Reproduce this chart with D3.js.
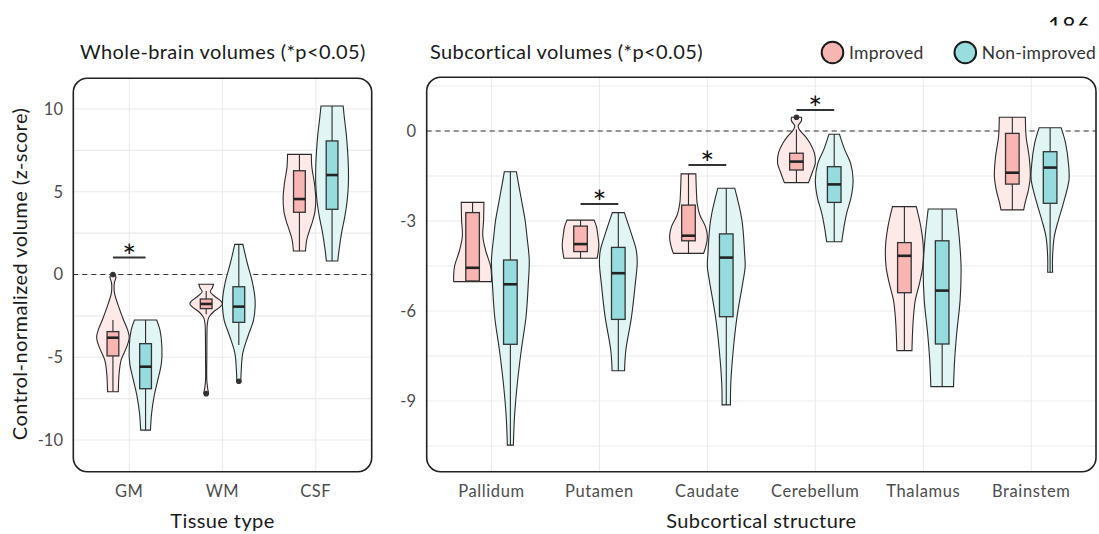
<!DOCTYPE html>
<html>
<head>
<meta charset="utf-8">
<script src="https://cdn.jsdelivr.net/npm/d3@7"></script>
<style>
  body { margin: 0; background: #fff; }
  svg { display: block; }
  text { font-family: Lato, "Open Sans", "DejaVu Sans", sans-serif; }
</style>
</head>
<body>
<svg id="chart" width="1099" height="534"></svg>
<script>
// ---------------- data ----------------
const tissueTypes = ["GM", "WM", "CSF"];
const structures = ["Pallidum", "Putamen", "Caudate", "Cerebellum", "Thalamus", "Brainstem"];
const groupNames = ["Improved", "Non-improved"];

// box statistics: [lower whisker, q1, median, q3, upper whisker]
const tissueBoxImproved = [
  [-7.08, -4.92, -3.82, -3.45, -2.75],
  [-2.40, -2.06, -1.78, -1.48, -1.00],
  [1.42, 3.76, 4.56, 6.27, 7.26]
];
const tissueBoxNonImproved = [
  [-9.40, -6.90, -5.57, -4.18, -2.75],
  [-4.26, -2.89, -1.94, -0.74, 1.82],
  [0.82, 3.94, 6.01, 8.07, 10.18]
];
const tissueOutliersImproved = [[0.0], [-7.2], []];
const tissueOutliersNonImproved = [[], [-6.45], []];

const structBoxImproved = [
  [-5.02, -5.00, -4.56, -2.72, -2.38],
  [-4.24, -4.02, -3.77, -3.17, -2.97],
  [-4.08, -3.66, -3.49, -2.47, -1.43],
  [-1.72, -1.30, -1.02, -0.74, 0.05],
  [-7.32, -5.39, -4.16, -3.72, -2.52],
  [-2.63, -1.77, -1.39, -0.08, 0.46]
];
const structBoxNonImproved = [
  [-10.47, -7.11, -5.11, -4.30, -1.36],
  [-7.99, -6.28, -4.74, -3.88, -2.72],
  [-9.13, -6.19, -4.22, -3.43, -1.91],
  [-3.69, -2.38, -1.78, -1.19, -0.11],
  [-8.52, -7.10, -5.32, -3.66, -2.60],
  [-4.71, -2.41, -1.22, -0.69, 0.11]
];
const structOutliersImproved = [[], [], [], [0.46], [], []];
const structOutliersNonImproved = [[], [], [], [], [], []];

// violin outlines: [value, relative half-width]
const tissueViolinImproved = [
  [[0.0, 0.14], [-0.2, 0.18], [-0.45, 0.1], [-0.7, 0.07], [-1.14, 0.1], [-1.94, 0.35], [-2.75, 0.65],
   [-3.35, 0.9], [-3.8, 1.0], [-4.36, 0.85], [-5.17, 0.5], [-5.97, 0.38], [-7.08, 0.33]],
  [[-0.59, 0.45], [-0.8, 0.38], [-1.04, 0.25], [-1.3, 0.5], [-1.6, 0.9], [-1.78, 1.0], [-2.0, 0.8],
   [-2.25, 0.45], [-2.59, 0.16], [-3.0, 0.07], [-3.5, 0.05], [-5.0, 0.04], [-6.4, 0.04], [-6.94, 0.1],
   [-7.18, 0.14], [-7.3, 0.05]],
  [[7.26, 0.73], [6.5, 0.76], [5.5, 0.92], [4.6, 1.0], [3.8, 0.95], [3.2, 0.8], [2.7, 0.63], [2.1, 0.45], [1.42, 0.37]]
];
const tissueViolinNonImproved = [
  [[-2.75, 0.68], [-3.35, 0.88], [-4.36, 1.0], [-5.37, 0.97], [-6.37, 0.75], [-7.38, 0.52], [-8.39, 0.37], [-9.4, 0.3]],
  [[1.82, 0.25], [0.68, 0.52], [-0.33, 0.8], [-1.34, 0.98], [-1.94, 1.0], [-2.75, 0.9], [-3.76, 0.55],
   [-4.76, 0.24], [-5.77, 0.15], [-6.48, 0.12]],
  [[10.18, 0.68], [9.5, 0.75], [8.5, 0.87], [7.5, 0.95], [6.5, 1.0], [5.5, 1.0], [4.5, 0.93], [3.5, 0.78],
   [2.5, 0.58], [1.5, 0.43], [0.82, 0.35]]
];
const structViolinImproved = [
  [[-2.38, 0.6], [-3.0, 0.58], [-3.5, 0.54], [-4.0, 0.7], [-4.5, 0.95], [-4.8, 1.0], [-5.02, 1.0]],
  [[-2.97, 0.72], [-3.2, 0.85], [-3.5, 0.92], [-3.8, 0.97], [-4.1, 0.92], [-4.24, 0.88]],
  [[-1.43, 0.39], [-2.0, 0.42], [-2.41, 0.46], [-2.8, 0.6], [-3.19, 0.9], [-3.52, 1.0], [-3.85, 0.92], [-4.08, 0.8]],
  [[0.46, 0.26], [0.35, 0.27], [0.17, 0.09], [0.05, 0.15], [-0.19, 0.48], [-0.41, 0.72], [-0.73, 0.95],
   [-1.07, 1.0], [-1.36, 0.85], [-1.72, 0.64]],
  [[-2.52, 0.63], [-3.19, 0.87], [-3.86, 1.0], [-4.52, 0.97], [-5.08, 0.8], [-5.63, 0.58], [-6.19, 0.48],
   [-6.74, 0.43], [-7.32, 0.4]],
  [[0.46, 0.69], [-0.19, 0.73], [-0.86, 0.89], [-1.52, 0.95], [-1.97, 0.85], [-2.41, 0.67], [-2.63, 0.6]]
];
const structViolinNonImproved = [
  [[-1.36, 0.32], [-1.86, 0.46], [-2.41, 0.62], [-2.97, 0.78], [-3.52, 0.88], [-4.3, 1.0], [-5.08, 0.95],
   [-6.19, 0.83], [-7.3, 0.58], [-8.41, 0.37], [-9.52, 0.22], [-10.47, 0.16]],
  [[-2.72, 0.32], [-3.52, 0.74], [-3.97, 0.95], [-4.4, 1.0], [-5.08, 0.9], [-6.19, 0.7], [-7.3, 0.4], [-7.99, 0.33]],
  [[-1.91, 0.45], [-2.97, 0.83], [-4.08, 0.97], [-4.52, 1.0], [-5.08, 0.87], [-6.19, 0.57], [-7.3, 0.37],
   [-8.41, 0.24], [-9.13, 0.22]],
  [[-0.11, 0.28], [-0.63, 0.56], [-1.08, 0.87], [-1.63, 1.0], [-2.19, 0.9], [-2.74, 0.66], [-3.19, 0.52], [-3.69, 0.4]],
  [[-2.6, 0.74], [-3.52, 0.9], [-4.52, 1.0], [-5.63, 0.95], [-6.74, 0.77], [-7.63, 0.66], [-8.52, 0.6]],
  [[0.11, 0.58], [-0.41, 0.82], [-1.08, 0.97], [-1.63, 1.0], [-2.41, 0.7], [-2.97, 0.44], [-3.52, 0.22],
   [-4.19, 0.13], [-4.71, 0.13]]
];

// significance brackets (category, bar level)
const tissueSigCats = ["GM"];
const tissueSigLevels = [1.02];
const structSigCats = ["Putamen", "Caudate", "Cerebellum"];
const structSigLevels = [-2.43, -1.13, 0.7];

// axis ticks
const tissueTicks = [-10, -5, 0, 5, 10];
const tissueMinor = [-7.5, -2.5, 2.5, 7.5];
const structTicks = [-9, -6, -3, 0];
const structMinor = [-10.5, -7.5, -4.5, -1.5, 1.5];

// ---------------- styling ----------------
const violinFill = ["#fde9e8", "#e1f5f5"];
const boxFill = ["#f8b5b1", "#96dcde"];
const legendFill = ["#f8b6b3", "#98dedf"];
const ink = "#2b2b2b";

const svg = d3.select("#chart");

// ---------------- panel drawer ----------------
function drawPanel(cfg) {
  const x = d3.scalePoint().domain(cfg.cats).range([cfg.left, cfg.right]).padding(0.6);
  const y = d3.scaleLinear().domain(cfg.yDomain).range([cfg.bottom, cfg.top]);
  const step = x.step();
  const dodge = 0.175 * step;
  const halfViolin = 0.175 * step;
  const halfBox = 0.063 * step;

  const g = svg.append("g");

  // grid
  const grid = g.append("g").attr("stroke", "#ebebeb").attr("stroke-width", 1.1);
  grid.selectAll("line.h").data(cfg.ticks.concat(cfg.minor)).join("line")
    .attr("x1", cfg.left).attr("x2", cfg.right)
    .attr("y1", d => y(d)).attr("y2", d => y(d));
  grid.selectAll("line.v").data(cfg.cats).join("line")
    .attr("x1", d => x(d)).attr("x2", d => x(d))
    .attr("y1", cfg.top).attr("y2", cfg.bottom);

  // zero reference
  g.append("line")
    .attr("x1", cfg.left).attr("x2", cfg.right)
    .attr("y1", y(0)).attr("y2", y(0))
    .attr("stroke", "#333").attr("stroke-width", 1.2).attr("stroke-dasharray", "5,4");

  const area = d3.area()
    .curve(d3.curveCatmullRom.alpha(0.5));

  const sets = [
    { box: cfg.boxI, viol: cfg.violI, out: cfg.outI, k: 0, off: -dodge },
    { box: cfg.boxN, viol: cfg.violN, out: cfg.outN, k: 1, off: dodge }
  ];

  sets.forEach(s => {
    cfg.cats.forEach((c, i) => {
      const cx = x(c) + s.off;
      const prof = s.viol[i];
      area.y(d => y(d[0]))
        .x0(d => cx - d[1] * halfViolin)
        .x1(d => cx + d[1] * halfViolin);
      g.append("path")
        .attr("d", area(prof))
        .attr("fill", violinFill[s.k])
        .attr("stroke", ink).attr("stroke-width", 1.1);

      const b = s.box[i];
      // whisker
      g.append("line")
        .attr("x1", cx).attr("x2", cx)
        .attr("y1", y(b[0])).attr("y2", y(b[4]))
        .attr("stroke", ink).attr("stroke-width", 1.1);
      // box
      g.append("rect")
        .attr("x", cx - halfBox).attr("width", 2 * halfBox)
        .attr("y", y(b[3])).attr("height", y(b[1]) - y(b[3]))
        .attr("fill", boxFill[s.k])
        .attr("stroke", "#333").attr("stroke-width", 1.3);
      // median
      g.append("line")
        .attr("x1", cx - halfBox).attr("x2", cx + halfBox)
        .attr("y1", y(b[2])).attr("y2", y(b[2]))
        .attr("stroke", "#222").attr("stroke-width", 2.6);
      // outliers
      g.selectAll(null).data(s.out[i]).join("circle")
        .attr("cx", cx).attr("cy", d => y(d)).attr("r", 2.8)
        .attr("fill", "#333");
    });
  });

  // significance bars
  cfg.sigCats.forEach((c, i) => {
    const yy = y(cfg.sigLevels[i]);
    g.append("line")
      .attr("x1", x(c) - dodge).attr("x2", x(c) + dodge)
      .attr("y1", yy).attr("y2", yy)
      .attr("stroke", "#333").attr("stroke-width", 2);
    g.append("text")
      .attr("x", x(c)).attr("y", yy + 10)
      .attr("text-anchor", "middle")
      .attr("font-size", 33).attr("fill", "#111")
      .text("*");
  });

  // frame
  g.append("rect")
    .attr("x", cfg.left).attr("y", cfg.top)
    .attr("width", cfg.right - cfg.left).attr("height", cfg.bottom - cfg.top)
    .attr("rx", 14).attr("ry", 14)
    .attr("fill", "none").attr("stroke", "#222").attr("stroke-width", 1.6);

  // y tick labels
  g.selectAll("text.yt").data(cfg.ticks).join("text")
    .attr("x", cfg.yLabelX).attr("y", d => y(d))
    .attr("dy", "0.35em").attr("text-anchor", "end")
    .attr("font-size", 16.5).attr("fill", "#4d4d4d")
    .text(d => d);

  // x tick labels
  g.selectAll("text.xt").data(cfg.cats).join("text")
    .attr("x", d => x(d)).attr("y", 497)
    .attr("text-anchor", "middle")
    .attr("font-size", 16.5).attr("letter-spacing", 0.6).attr("fill", "#4d4d4d")
    .text(d => d);

  // x axis title
  g.append("text")
    .attr("x", (cfg.left + cfg.right) / 2).attr("y", 528)
    .attr("text-anchor", "middle")
    .attr("font-size", 20).attr("letter-spacing", 0.4).attr("fill", "#1a1a1a")
    .text(cfg.xTitle);

  // panel title
  g.append("text")
    .attr("x", cfg.titleX).attr("y", 59)
    .attr("font-size", 20).attr("letter-spacing", 0.4).attr("fill", "#1a1a1a")
    .text(cfg.title);
}

drawPanel({
  cats: tissueTypes, left: 73.3, right: 371.7, top: 78.3, bottom: 471.7,
  yDomain: [-11.915, 11.855],
  ticks: tissueTicks, minor: tissueMinor,
  boxI: tissueBoxImproved, boxN: tissueBoxNonImproved,
  violI: tissueViolinImproved, violN: tissueViolinNonImproved,
  outI: tissueOutliersImproved, outN: tissueOutliersNonImproved,
  sigCats: tissueSigCats, sigLevels: tissueSigLevels,
  yLabelX: 63, xTitle: "Tissue type",
  title: "Whole-brain volumes (*p<0.05)", titleX: 80
});

drawPanel({
  cats: structures, left: 426.7, right: 1096, top: 77.3, bottom: 471.7,
  yDomain: [-11.357, 1.79],
  ticks: structTicks, minor: structMinor,
  boxI: structBoxImproved, boxN: structBoxNonImproved,
  violI: structViolinImproved, violN: structViolinNonImproved,
  outI: structOutliersImproved, outN: structOutliersNonImproved,
  sigCats: structSigCats, sigLevels: structSigLevels,
  yLabelX: 416, xTitle: "Subcortical structure",
  title: "Subcortical volumes (*p<0.05)", titleX: 430
});

// shared y axis title
svg.append("text")
  .attr("transform", "translate(27,274) rotate(-90)")
  .attr("text-anchor", "middle")
  .attr("font-size", 20).attr("letter-spacing", 0.45).attr("fill", "#1a1a1a")
  .text("Control-normalized volume (z-score)");

// legend
const legendX = [832.5, 965.3];
const legend = svg.append("g");
groupNames.forEach((name, i) => {
  legend.append("circle")
    .attr("cx", legendX[i]).attr("cy", 52.5).attr("r", 10.8)
    .attr("fill", legendFill[i]).attr("stroke", "#1a1a1a").attr("stroke-width", 2);
  legend.append("text")
    .attr("x", legendX[i] + 16.5).attr("y", 58.5)
    .attr("font-size", 17.5).attr("letter-spacing", 0.25).attr("fill", "#333")
    .text(name);
});

// page number, partly cut off at the top margin
svg.append("clipPath").attr("id", "pageclip")
  .append("rect").attr("x", 1000).attr("y", 0).attr("width", 99).attr("height", 25.5);
svg.append("text")
  .attr("x", 1048).attr("y", 34)
  .attr("clip-path", "url(#pageclip)")
  .attr("font-family", "'Liberation Serif', 'DejaVu Serif', serif")
  .attr("font-size", 23).attr("letter-spacing", 1).attr("fill", "#111")
  .text("186");
</script>
</body>
</html>
